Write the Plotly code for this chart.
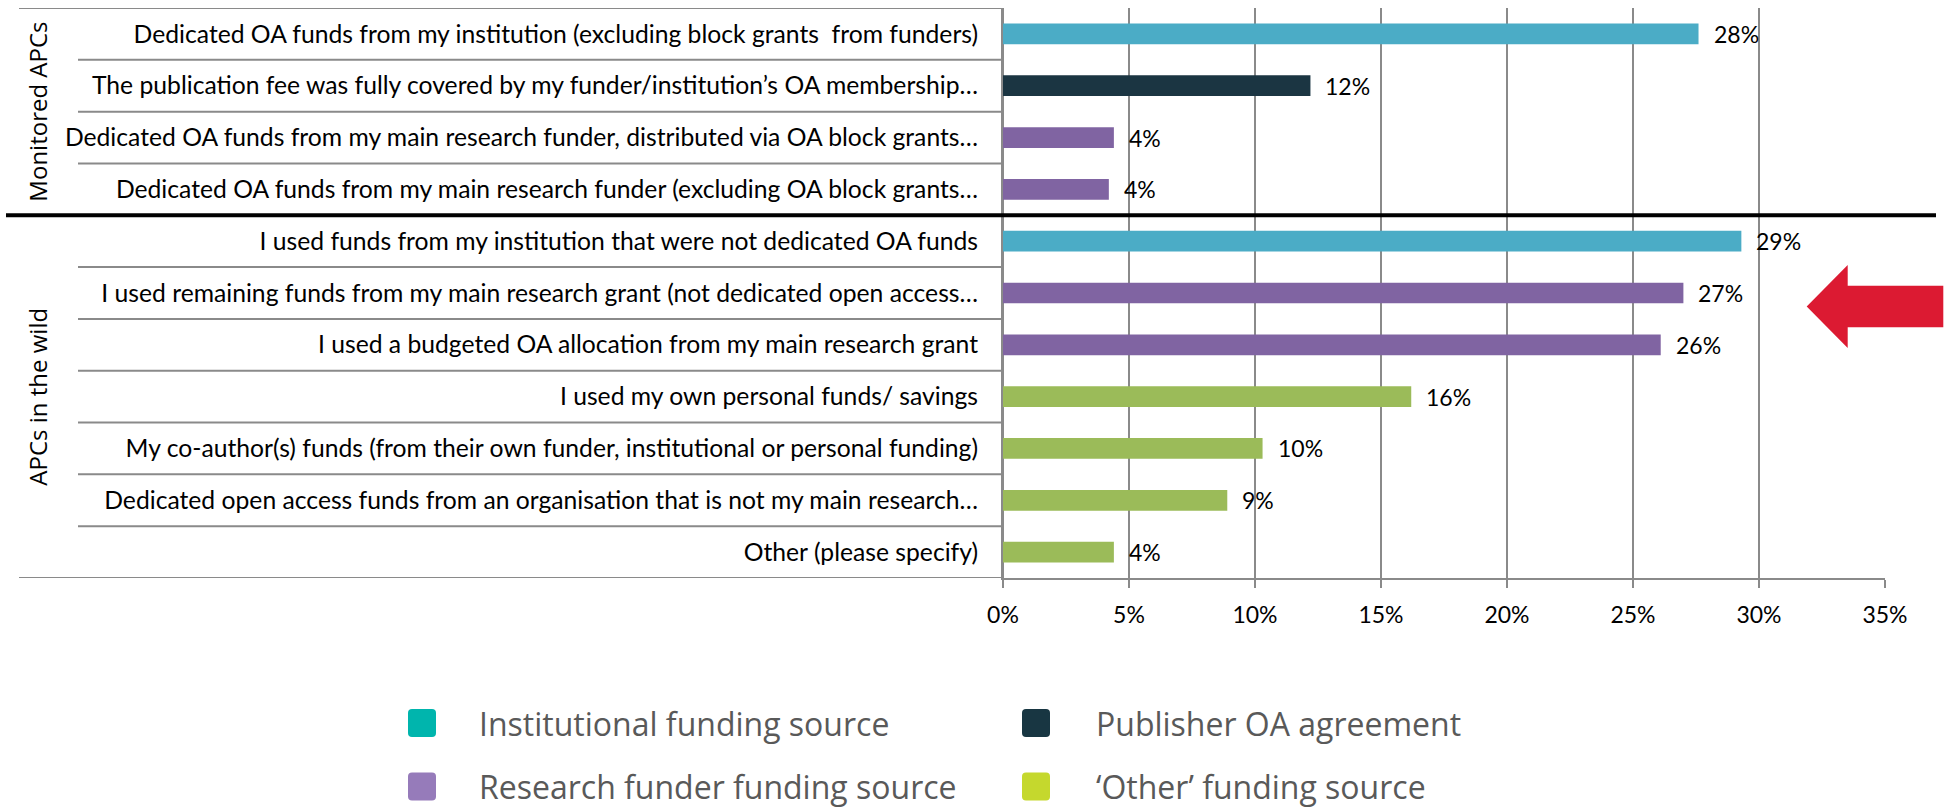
import plotly.graph_objects as go

# ---------------- data ----------------
categories = [
    "Dedicated OA funds from my institution (excluding block grants  from funders)",
    "The publication fee was fully covered by my funder/institution’s OA membership…",
    "Dedicated OA funds from my main research funder, distributed via OA block grants…",
    "Dedicated OA funds from my main research funder (excluding OA block grants…",
    "I used funds from my institution that were not dedicated OA funds",
    "I used remaining funds from my main research grant (not dedicated open access…",
    "I used a budgeted OA allocation from my main research grant",
    "I used my own personal funds/ savings",
    "My co-author(s) funds (from their own funder, institutional or personal funding)",
    "Dedicated open access funds from an organisation that is not my main research…",
    "Other (please specify)",
]
values = [27.6, 12.2, 4.4, 4.2, 29.3, 27.0, 26.1, 16.2, 10.3, 8.9, 4.4]
source_type = ["Institutional", "Publisher", "Research", "Research", "Institutional",
               "Research", "Research", "Other", "Other", "Other", "Other"]
group_names = ["Monitored APCs", "APCs in the wild"]
group_sizes = [4, 7]
x_ticks = [0, 5, 10, 15, 20, 25, 30, 35]

legend_labels = ["Institutional funding source", "Publisher OA agreement",
                 "Research funder funding source", "‘Other’ funding source"]

# ---------------- styles ----------------
bar_colors = {"Institutional": "#4BACC6", "Publisher": "#1B3542",
              "Research": "#8064A2", "Other": "#9BBB59"}
legend_colors = ["#00B5AD", "#183642", "#967BBA", "#C5D82D"]
FONT = "Lato, 'Liberation Sans', sans-serif"
LEG_FONT = "'Open Sans', sans-serif"
GRID = "#8A8A8A"

W, H = 1950, 812
L, R, T, B = 1003, 65, 8, 234
PW, PH = W - L - R, H - T - B


def xp(px):
    return (px - L) / PW


def yp(py):
    return (H - B - py) / PH


fig = go.Figure()
fig.add_trace(go.Bar(
    y=categories, x=values, orientation="h", width=0.4,
    marker=dict(color=[bar_colors[t] for t in source_type], line=dict(width=0)),
    hoverinfo="x+y", showlegend=False,
))

annotations = []
# value labels
for c, v in zip(categories, values):
    annotations.append(dict(x=v, y=c, xref="x", yref="y", text=f"{v:.0f}%",
                            showarrow=False, xanchor="left", xshift=13,
                            font=dict(family=FONT, size=23, color="#000000")))

shapes = []
n = len(categories)
# category separators (multi-level axis)
for i in range(n + 1):
    yb = i - 0.5
    if i == group_sizes[0]:
        continue
    x0 = xp(19) if i in (0, n) else xp(78)
    shapes.append(dict(type="line", xref="paper", yref="y", x0=x0, x1=0,
                       y0=yb, y1=yb, line=dict(color=GRID, width=2)))
# black group separator
ysep = group_sizes[0] - 0.5
shapes.append(dict(type="line", xref="paper", yref="y", x0=xp(6), x1=xp(1936),
                   y0=ysep, y1=ysep, line=dict(color="#000000", width=4)))

# group labels
start = 0
for g, sz in zip(group_names, group_sizes):
    mid = start + (sz - 1) / 2
    annotations.append(dict(x=xp(38), y=mid, xref="paper", yref="y", text=g,
                            textangle=-90, showarrow=False,
                            xanchor="center", yanchor="middle",
                            font=dict(family="'Open Sans', sans-serif", size=24,
                                      color="#000000")))
    start += sz

# red arrow
arrow_pts = [(1806.7, 306.5), (1847.7, 265), (1847.7, 285.7), (1943.3, 285.7),
             (1943.3, 327.3), (1847.7, 327.3), (1847.7, 348)]
path = "M " + " L ".join(f"{xp(a):.5f},{yp(b):.5f}" for a, b in arrow_pts) + " Z"
shapes.append(dict(type="path", xref="paper", yref="paper", path=path,
                   fillcolor="#DC1A32", line=dict(width=0)))

# legend (manual, picture legend)
leg_pos = [(408, 723), (1022, 723), (408, 786.5), (1022, 786.5)]
text_x = [477, 1094, 477, 1094]
for (sx, sy), tx, lab, col in zip(leg_pos, text_x, legend_labels, legend_colors):
    x0, x1 = sx, sx + 28
    y0, y1 = sy - 14, sy + 14
    r = 4
    pts = (f"M {xp(x0 + r)},{yp(y0)} L {xp(x1 - r)},{yp(y0)} "
           f"Q {xp(x1)},{yp(y0)} {xp(x1)},{yp(y0 + r)} L {xp(x1)},{yp(y1 - r)} "
           f"Q {xp(x1)},{yp(y1)} {xp(x1 - r)},{yp(y1)} L {xp(x0 + r)},{yp(y1)} "
           f"Q {xp(x0)},{yp(y1)} {xp(x0)},{yp(y1 - r)} L {xp(x0)},{yp(y0 + r)} "
           f"Q {xp(x0)},{yp(y0)} {xp(x0 + r)},{yp(y0)} Z")
    shapes.append(dict(type="path", xref="paper", yref="paper", path=pts,
                       fillcolor=col, line=dict(width=0)))
    annotations.append(dict(x=xp(tx), y=yp(sy), xref="paper", yref="paper",
                            text=lab, showarrow=False, xanchor="left", yanchor="middle",
                            font=dict(family=LEG_FONT, size=32, color="#595959")))

fig.update_layout(
    width=W, height=H,
    margin=dict(l=L, r=R, t=T, b=B, autoexpand=False),
    paper_bgcolor="white", plot_bgcolor="white",
    showlegend=False,
    xaxis=dict(range=[0, 35], tickvals=x_ticks, ticktext=[f"{t}%" for t in x_ticks],
               showgrid=True, gridcolor=GRID, gridwidth=2,
               zeroline=True, zerolinecolor=GRID, zerolinewidth=2,
               showline=True, linecolor=GRID, linewidth=2,
               ticks="outside", ticklen=8, tickwidth=2, tickcolor=GRID,
               ticklabelstandoff=7,
               tickfont=dict(family=FONT, size=23, color="#000000"), fixedrange=True),
    yaxis=dict(categoryorder="array", categoryarray=categories,
               range=[n - 0.5, -0.5], showgrid=False, zeroline=False,
               showline=True, linecolor=GRID, linewidth=2, ticks="",
               ticklabelstandoff=18,
               tickfont=dict(family=FONT, size=24.7, color="#000000"), fixedrange=True),
    shapes=shapes, annotations=annotations,
)

fig.write_html("out.html", config={"displayModeBar": False},
               post_script="document.body.style.margin='0';")
